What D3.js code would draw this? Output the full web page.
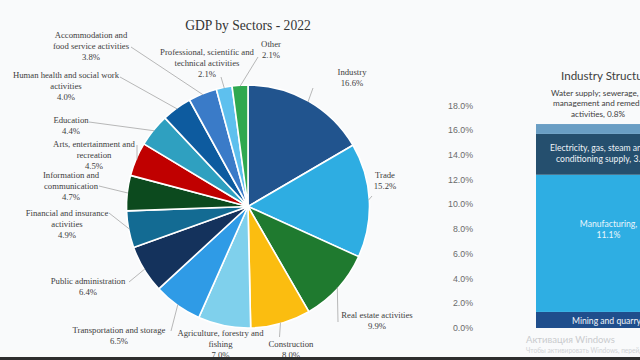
<!DOCTYPE html>
<html><head><meta charset="utf-8">
<script src="https://cdn.jsdelivr.net/npm/d3@7"></script>
<style>
html,body{margin:0;padding:0;background:#f9fafb;}
svg{display:block;}
</style></head>
<body>
<svg id="c" width="640" height="360"></svg>
<script>
// ---- data ----
const chartTitle = "GDP by Sectors - 2022";
const sectors = ["Industry","Trade","Real estate activities","Construction","Agriculture, forestry and fishing","Transportation and storage","Public administration","Financial and insurance activities","Information and communication","Arts, entertainment and recreation","Education","Human health and social work activities","Accommodation and food service activities","Professional, scientific and technical activities","Other"];
const shares = [16.6,15.2,9.9,8.0,7.0,6.5,6.4,4.9,4.7,4.5,4.4,4.0,3.8,2.1,2.1];
const sectorColors = ["#21548e","#2eade2","#1f7a2f","#fbbd10","#7fd0ec","#2f9be6","#14325c","#136b93","#0c4a1e","#c00000","#2fa0c0","#0d5b9f","#3a7bc8","#5ec0ee","#2fa84f"];

const structTitle = "Industry Structure";
const industryParts = ["Mining and quarrying","Manufacturing","Electricity, gas, steam and air conditioning supply","Water supply; sewerage, waste management and remediation activities"];
const industryShares = [1.3,11.1,3.3,0.8];
const industryColors = ["#1f4e8c","#2eaee3","#254f6e","#6a9ec4"];
const axisTicks = [0,2,4,6,8,10,12,14,16,18];

// ---- layout ----
const W = 640, H = 360;
const cx = 248, cy = 206.5, R = 121.5;
// words per line, label first-line centre, leader start
const labelLayout = [
  {br:[1], x:352, y:72, lead:[313,88]},
  {br:[1], x:385, y:175, lead:[372,196]},
  {br:[3], x:377, y:315.5, lead:[338,322]},
  {br:[1], x:291, y:344, lead:[279.5,337]},
  {br:[3,1], x:220.5, y:333, lead:null},
  {br:[3], x:119, y:330, lead:[171,331]},
  {br:[2], x:88, y:281, lead:[129,282]},
  {br:[3,1], x:67, y:213, lead:[109,213]},
  {br:[2,1], x:71, y:175, lead:[99,186]},
  {br:[3,1], x:94, y:144, lead:[137,145]},
  {br:[1], x:71, y:120, lead:[89,122]},
  {br:[5,1], x:66, y:75, lead:[120,77]},
  {br:[2,3], x:91, y:35.5, lead:[131,47]},
  {br:[3,2], x:207, y:52.3, lead:[221,77]},
  {br:[1], x:271, y:44, lead:[258,57]}
];
const LH = 11;

const svg = d3.select("#c");
svg.append("rect").attr("width",W).attr("height",H).attr("fill","#f9fafb");

// title
svg.append("text").attr("x",cx).attr("y",25).attr("text-anchor","middle")
  .attr("dominant-baseline","central")
  .style("font-family","'Liberation Serif','DejaVu Serif',serif").style("font-size","13.6px")
  .attr("fill","#333").text(chartTitle);

// pie
const pie = d3.pie().sort(null).value(d=>d);
const arcs = pie(shares);
const arc = d3.arc().innerRadius(0).outerRadius(R);
const g = svg.append("g").attr("transform",`translate(${cx},${cy})`);
g.selectAll("path").data(arcs).join("path")
  .attr("d",arc).attr("fill",(d,i)=>sectorColors[i])
  .attr("stroke","#fff").attr("stroke-width",1.6).attr("stroke-linejoin","round");

// leaders
const edge = d3.arc().innerRadius(R).outerRadius(R);
arcs.forEach((a,i)=>{
  const L = labelLayout[i];
  if(!L.lead) return;
  const m = (a.startAngle+a.endAngle)/2;
  const ex = cx + Math.sin(m)*(R-1), ey = cy - Math.cos(m)*(R-1);
  svg.append("path").attr("d",`M${L.lead[0]},${L.lead[1]}L${ex},${ey}`)
    .attr("stroke","#a6a6a6").attr("stroke-width",0.8).attr("fill","none");
});

// labels
const fmt = d3.format(".1f");
sectors.forEach((name,i)=>{
  const L = labelLayout[i];
  const words = name.split(" ");
  const lines = [];
  let k = 0;
  L.br.forEach(n=>{ lines.push(words.slice(k,k+n).join(" ")); k+=n; });
  lines.push(fmt(shares[i])+"%");
  const t = svg.append("text").attr("text-anchor","middle")
    .style("font-family","'Liberation Serif','DejaVu Serif',serif").style("font-size","8.7px")
    .attr("fill","#404040");
  lines.forEach((s,j)=>{
    t.append("tspan").attr("x",L.x).attr("y",L.y+j*LH).attr("dy","0.33em").text(s);
  });
});

// value axis (right panel)
const y = d3.scaleLinear().domain([0,18]).range([328,105.5]);
svg.append("g").selectAll("text").data(axisTicks).join("text")
  .attr("x",473).attr("y",d=>y(d)).attr("dy","0.35em").attr("text-anchor","end")
  .style("font-family","'Liberation Sans',Arial,sans-serif").style("font-size","8.8px")
  .attr("fill","#6b6b6b").text(d=>fmt(d)+"%");

// stacked bar
const bx0 = 536, bw = 144;
let acc = 0;
const stack = industryShares.map((v,i)=>{ const s={i,v,y0:acc,y1:acc+v}; acc+=v; return s; });
svg.append("g").selectAll("rect").data(stack).join("rect")
  .attr("x",bx0).attr("width",bw)
  .attr("y",d=>y(d.y1)).attr("height",d=>y(d.y0)-y(d.y1))
  .attr("fill",d=>industryColors[d.i]);

const sans = "Lato,'Liberation Sans',sans-serif";
svg.append("text").attr("x",561).attr("y",75.7).attr("dy","0.35em")
  .style("font-family",sans).style("font-size","11.6px").attr("fill","#404040").text(structTitle);

function barLabel(lines, xs, y0, color, size){
  const t = svg.append("text").style("font-family",sans).style("font-size",size).attr("fill",color);
  lines.forEach((s,j)=>t.append("tspan").attr("x",xs[j]).attr("y",y0+j*10.5).attr("dy","0.35em").text(s));
}
// water supply (above bar)
barLabel(["Water supply; sewerage, waste","management and remediation","activities, "+fmt(industryShares[3])+"%"],
  [551,553,571], 93, "#404040", "8.2px");
// electricity
barLabel(["Electricity, gas, steam and air","conditioning supply, "+fmt(industryShares[2])+"%"],
  [550,556], 148.3, "#eef3f7", "8.6px");
// manufacturing
const mt = svg.append("text").attr("text-anchor","middle").style("font-family",sans).style("font-size","8.6px").attr("fill","#eaf6fc");
mt.append("tspan").attr("x",608.5).attr("y",224).attr("dy","0.35em").text(industryParts[1]+",");
mt.append("tspan").attr("x",608.5).attr("y",235).attr("dy","0.35em").text(fmt(industryShares[1])+"%");
// mining
barLabel([industryParts[0]+", "+fmt(industryShares[0])+"%"],[572],320.5,"#f2f5fa","8.6px");

// OS watermark
svg.append("text").attr("x",526).attr("y",340).attr("dy","0.35em")
  .style("font-family",sans).style("font-size","9.5px").attr("fill","#c9cbce").text("Активация Windows");
svg.append("text").attr("x",526).attr("y",350.5).attr("dy","0.35em")
  .style("font-family",sans).style("font-size","6.6px").attr("fill","#d0d2d5").text("Чтобы активировать Windows, перейдите в раздел");

// bottom edge
svg.append("rect").attr("x",0).attr("y",357).attr("width",W).attr("height",3).attr("fill","#2e2e2e");
</script>
</body></html>
